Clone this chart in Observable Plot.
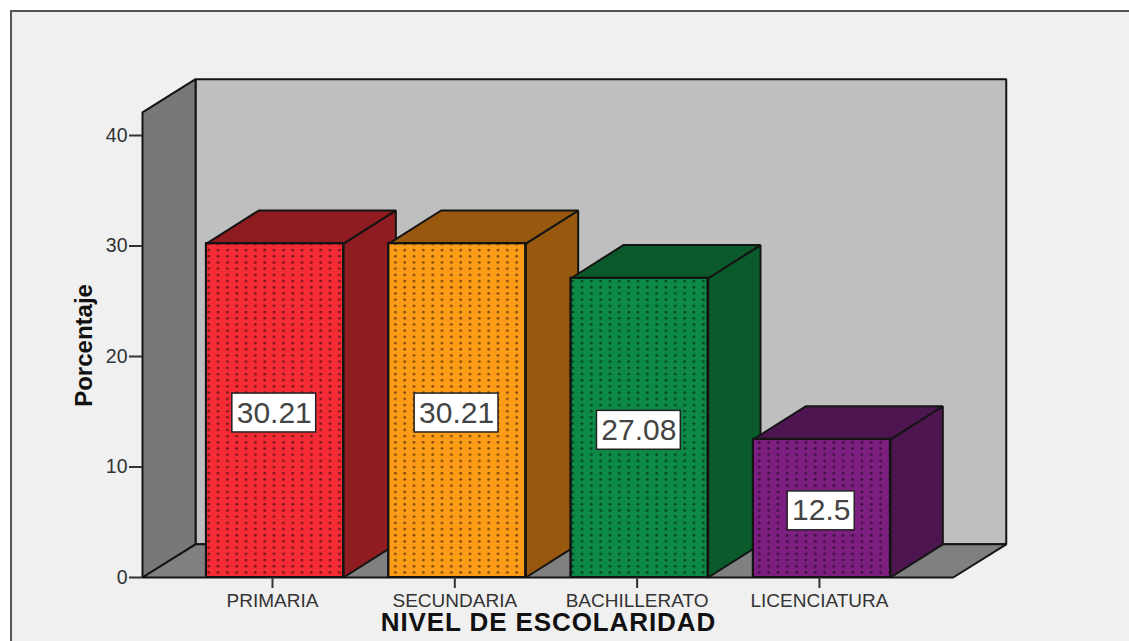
<!DOCTYPE html>
<html>
<head>
<meta charset="utf-8">
<script src="https://cdn.jsdelivr.net/npm/d3@7"></script>
<script src="https://cdn.jsdelivr.net/npm/@observablehq/plot@0.6"></script>
<style>
  html, body { margin: 0; padding: 0; background: #fff; }
  #panel {
    position: absolute; left: 10px; top: 10px; width: 1119px; height: 631px;
    box-sizing: border-box; background: #f0f0f0;
    border-top: 2px solid #555; border-left: 2px solid #555;
  }
  #chart { position: absolute; left: 0; top: 0; }
  #chart svg { background: transparent; }
  .axis-title-wide { letter-spacing: 0.9px; }
</style>
</head>
<body>
<div id="panel"></div>
<div id="chart"></div>
<script>
// Share of respondents by schooling level
const categories = ["PRIMARIA", "SECUNDARIA", "BACHILLERATO", "LICENCIATURA"];
const percentages = [30.21, 30.21, 27.08, 12.5];
const valueLabels = ["30.21", "30.21", "27.08", "12.5"];
const frontColors = ["#f52c36", "#fd9c17", "#0d8a47", "#7c1f80"];
const sideColors = ["#8e1c21", "#98590f", "#0b5a2c", "#4e1650"];
const yTicks = [0, 10, 20, 30, 40];

// Oblique projection, in scale units
const wallDepthX = 0.291;
const barDepthX = 0.287;
const depthY = 3.0;
const barHalf = 0.376;
const wallLeft = -0.7267;
const wallRight = 3.72;
const wallTop = 42.1;
const ink = "#141414";

const bars = categories.map((name, i) => ({
  name, i, value: percentages[i], label: valueLabels[i],
  front: frontColors[i], side: sideColors[i]
}));

// Each polygon is a closed line: one id, several corner rows
const polygon = (id, fill, corners) =>
  corners.map(([x, y]) => ({id, fill, x, y}));

const shell = [
  ...polygon("back", "#bfbfbf", [
    [wallLeft + wallDepthX, depthY], [wallRight + wallDepthX, depthY],
    [wallRight + wallDepthX, wallTop + depthY], [wallLeft + wallDepthX, wallTop + depthY]
  ]),
  ...polygon("left", "#787878", [
    [wallLeft, 0], [wallLeft + wallDepthX, depthY],
    [wallLeft + wallDepthX, wallTop + depthY], [wallLeft, wallTop]
  ]),
  ...polygon("floor", "#808080", [
    [wallLeft, 0], [wallRight, 0],
    [wallRight + wallDepthX, depthY], [wallLeft + wallDepthX, depthY]
  ])
];

const barFaces = bars.flatMap(b => {
  const l = b.i - barHalf, r = b.i + barHalf, v = b.value;
  return [
    ...polygon(`side${b.i}`, b.side, [
      [r, 0], [r + barDepthX, depthY], [r + barDepthX, v + depthY], [r, v]
    ]),
    ...polygon(`top${b.i}`, b.side, [
      [l, v], [r, v], [r + barDepthX, v + depthY], [l + barDepthX, v + depthY]
    ])
  ];
});

// Dotted texture laid over the front faces
const dotPattern = () => {
  const ns = "http://www.w3.org/2000/svg";
  const g = document.createElementNS(ns, "g");
  const defs = document.createElementNS(ns, "defs");
  const pattern = document.createElementNS(ns, "pattern");
  pattern.setAttribute("id", "dots");
  pattern.setAttribute("patternUnits", "userSpaceOnUse");
  pattern.setAttribute("width", 9.33);
  pattern.setAttribute("height", 6.2);
  const dot = document.createElementNS(ns, "circle");
  dot.setAttribute("cx", 3.5);
  dot.setAttribute("cy", 2);
  dot.setAttribute("r", 1.4);
  dot.setAttribute("fill", "#000");
  dot.setAttribute("fill-opacity", 0.5);
  pattern.appendChild(dot);
  defs.appendChild(pattern);
  g.appendChild(defs);
  return g;
};

const facePolygon = (data) => Plot.line(data, {
  x: "x", y: "y", z: "id", fill: "fill", stroke: ink, strokeWidth: 2,
  curve: "linear-closed", strokeLinejoin: "miter"
});

const boxHalf = d => d.label.length * 0.046;
const boxHeight = 1.76;
const labelCenter = d => d.value / 2 - 0.22;

const plot = Plot.plot({
  width: 1129, height: 641,
  marginLeft: 142, marginRight: 0, marginTop: 0, marginBottom: 64,
  style: {fontFamily: "'Liberation Sans', Arial, sans-serif", background: "transparent", overflow: "visible"},
  x: {type: "linear", domain: [wallLeft, 4.687], axis: null},
  y: {type: "linear", domain: [0, 577 / 11.05], axis: null},
  marks: [
    dotPattern,
    facePolygon(shell),
    facePolygon(barFaces),
    Plot.rect(bars, {
      x1: d => d.i - barHalf, x2: d => d.i + barHalf, y1: 0, y2: "value",
      fill: "front", stroke: ink, strokeWidth: 2
    }),
    Plot.rect(bars, {
      x1: d => d.i - barHalf, x2: d => d.i + barHalf, y1: 0, y2: "value",
      fill: "url(#dots)", stroke: ink, strokeWidth: 2
    }),
    Plot.axisY({
      ticks: yTicks, tickSize: 13, tickPadding: 2, label: null,
      fontSize: 19.5, stroke: "#333", strokeWidth: 2, color: "#333"
    }),
    Plot.axisX({
      ticks: categories.map((_, i) => i), tickFormat: i => categories[i],
      anchor: "bottom", tickSize: 11, tickPadding: 5, label: null, textStroke: "none",
      fontSize: 19, dx: -2.5, stroke: "#333", strokeWidth: 2, color: "#333"
    }),
    Plot.rect(bars, {
      x1: d => d.i - 0.004 - boxHalf(d), x2: d => d.i - 0.004 + boxHalf(d),
      y1: d => labelCenter(d) - boxHeight, y2: d => labelCenter(d) + boxHeight,
      fill: "#fff", stroke: "#222", strokeWidth: 1.5
    }),
    Plot.text(bars, {
      x: d => d.i - 0.004, y: labelCenter, text: "label",
      fontSize: 30, fill: "#444"
    }),
    Plot.text(["NIVEL DE ESCOLARIDAD"], {
      x: () => 1.5, frameAnchor: "bottom", dy: 53, className: "axis-title-wide",
      fontSize: 26, fontWeight: "bold", fill: "#111"
    }),
    Plot.text(["Porcentaje"], {
      y: () => 21, frameAnchor: "left", textAnchor: "middle", dx: -58, rotate: -90,
      fontSize: 24, fontWeight: "bold", fill: "#111"
    })
  ]
});
document.getElementById("chart").appendChild(plot);
</script>
</body>
</html>
